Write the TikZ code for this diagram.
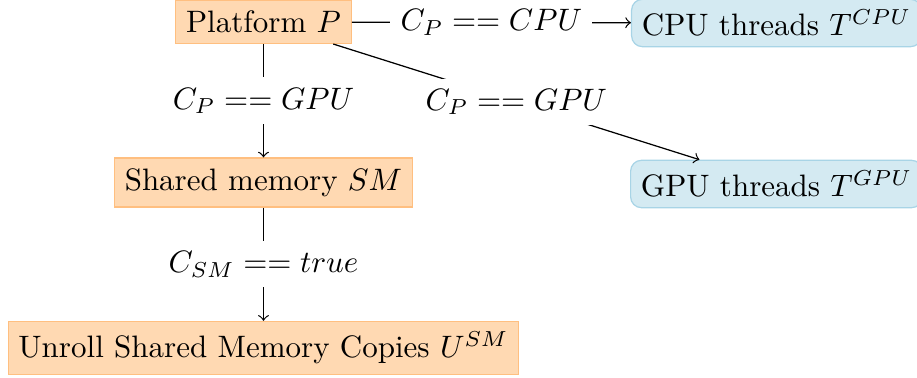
\documentclass[tikz,border=0pt]{standalone}
\definecolor{threadfill}{RGB}{212,234,242}
\definecolor{threaddraw}{RGB}{168,212,230}
\begin{document}
\begin{tikzpicture}[x=0.32258pt, y=-0.32258pt,
  choice/.style={draw=orange!50, fill=orange!30, inner sep=3.33pt},
  thread/.style={draw=threaddraw, fill=threadfill, rounded corners=3.5pt, inner sep=3.33pt},
  cond/.style={fill=white},
  link/.style={->}]
  \useasboundingbox (0,0) rectangle (917,378);
  % decision nodes
  \node[choice] (P)  at (263.5,22)    {Platform $P$};
  \node[choice] (sm) at (263.5,182.5) {Shared memory $SM$};
  \node[choice] (un) at (263.5,348)   {Unroll Shared Memory Copies $U^{SM}$};
  % thread targets
  \node[thread] (cpu) at (776.5,23)  {CPU threads $T^{CPU}$};
  \node[thread] (gpu) at (776.5,184) {GPU threads $T^{GPU}$};
  % conditional edges
  \draw[link] (P)  -- node[cond] {$C_P == CPU$}    (cpu);
  \draw[link] (P)  -- node[cond] {$C_P == GPU$}    (gpu);
  \draw[link] (P)  -- node[cond] {$C_P == GPU$}    (sm);
  \draw[link] (sm) -- node[cond] {$C_{SM} == true$} (un);
\end{tikzpicture}
\end{document}
